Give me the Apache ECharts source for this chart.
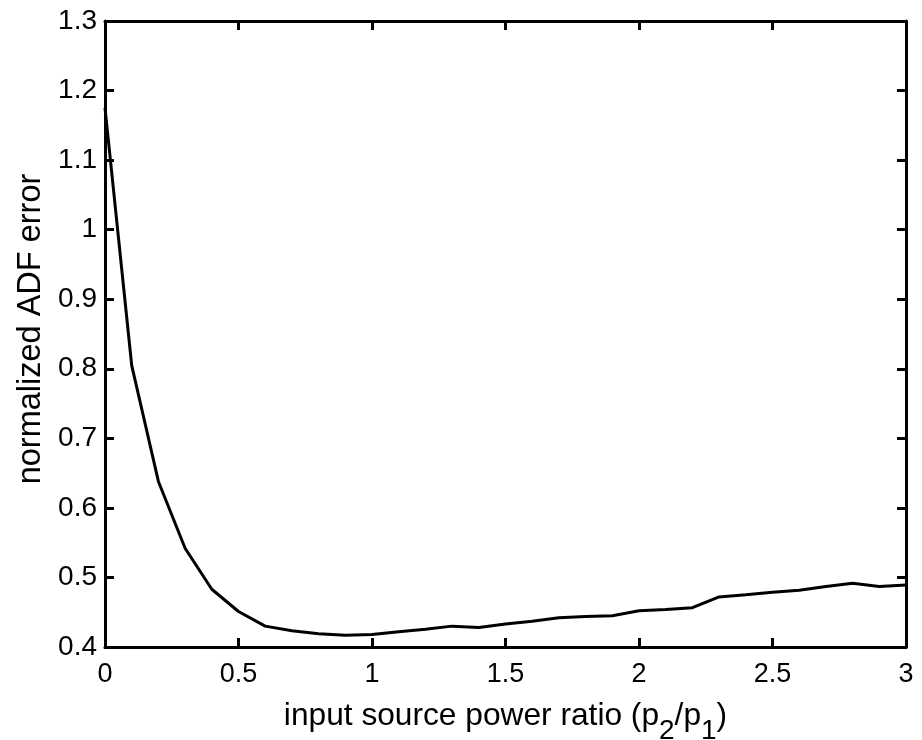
<!DOCTYPE html>
<html>
<head>
<meta charset="utf-8">
<script src="https://cdn.jsdelivr.net/npm/echarts@6/dist/echarts.min.js"></script>
<style>html,body{margin:0;padding:0;background:#fff;}#c{width:922px;height:740px;}</style>
</head>
<body>
<div id="c"></div>
<script>
const xValues = [0,0.1,0.2,0.3,0.4,0.5,0.6,0.7,0.8,0.9,1.0,1.1,1.2,1.3,1.4,1.5,1.6,1.7,1.8,1.9,2.0,2.1,2.2,2.3,2.4,2.5,2.6,2.7,2.8,2.9,3.0];
const errValues = [1.175,0.805,0.638,0.542,0.483,0.451,0.430,0.4235,0.419,0.417,0.418,0.422,0.4255,0.430,0.428,0.433,0.437,0.442,0.444,0.445,0.452,0.454,0.4565,0.472,0.475,0.4786,0.4815,0.487,0.4915,0.487,0.489];
const xTickLabels = ['0','0.5','1','1.5','2','2.5','3'];
const yTickLabels = ['0.4','0.5','0.6','0.7','0.8','0.9','1','1.1','1.2','1.3'];

const font = 'Liberation Sans, Arial, sans-serif';
const chart = echarts.init(document.getElementById('c'));
const lineStyle = {color:'#000', width:3};
const tick = {show:true, inside:true, length:9, lineStyle:{color:'#000', width:3}};
const fmtX = v => { const s = (Math.round(v*10)/10).toString(); return xTickLabels.includes(s) ? s : ''; };
const fmtY = v => { const s = (Math.round(v*10)/10).toString(); return yTickLabels.includes(s) ? s : ''; };
chart.setOption({
  animation:false,
  backgroundColor:'#fff',
  grid:{left:105, right:16, top:21, bottom:93, containLabel:false, outerBoundsMode:'none'},
  xAxis:[
    {type:'value', min:0, max:3, interval:0.5, position:'bottom',
     axisLine:{show:true, onZero:false, lineStyle:lineStyle}, axisTick:tick, splitLine:{show:false},
     axisLabel:{color:'#000', fontSize:27, fontFamily:font, margin:14, formatter:fmtX},
     name:'{t|input source power ratio (p}{s|2}{t|/p}{s|1}{t|)}', nameLocation:'middle', nameGap:53,
     nameTextStyle:{rich:{
       t:{fontSize:31.7, fontFamily:font, color:'#000', lineHeight:34, verticalAlign:'top'},
       s:{fontSize:28, fontFamily:font, color:'#000', lineHeight:30, verticalAlign:'top', padding:[17,0,0,0]}}}},
    {type:'value', min:0, max:3, interval:0.5, position:'top',
     axisLine:{show:true, onZero:false, lineStyle:lineStyle}, axisTick:tick, splitLine:{show:false}, axisLabel:{show:false}}
  ],
  yAxis:[
    {type:'value', min:0.4, max:1.3, interval:0.1, position:'left',
     axisLine:{show:true, onZero:false, lineStyle:lineStyle}, axisTick:tick, splitLine:{show:false},
     axisLabel:{color:'#000', fontSize:28, fontFamily:font, margin:8, formatter:fmtY},
     name:'normalized ADF error', nameLocation:'middle', nameGap:57,
     nameTextStyle:{fontSize:32.5, fontFamily:font, color:'#000', padding:[0,0,0,10]}},
    {type:'value', min:0.4, max:1.3, interval:0.1, position:'right',
     axisLine:{show:true, onZero:false, lineStyle:lineStyle}, axisTick:tick, splitLine:{show:false}, axisLabel:{show:false}}
  ],
  series:[{
    type:'line', xAxisIndex:0, yAxisIndex:0,
    data: xValues.map((x,i)=>[x, errValues[i]]),
    showSymbol:false, lineStyle:{color:'#000', width:3}, clip:false
  }]
});
</script>
</body>
</html>
